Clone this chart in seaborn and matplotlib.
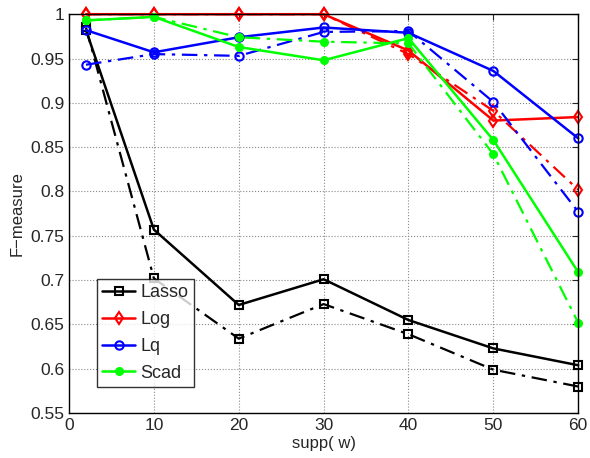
import pandas as pd
import seaborn as sns
import matplotlib
matplotlib.use("Agg")
import matplotlib.pyplot as plt
from matplotlib.ticker import FuncFormatter

# x positions (support size)
supp = [2, 10, 20, 30, 40, 50, 60]

# solid lines
lasso = [0.982, 0.757, 0.672, 0.701, 0.655, 0.623, 0.604]
log = [1.0, 1.0, 1.0, 1.0, 0.959, 0.880, 0.884]
lq = [0.982, 0.957, 0.974, 0.985, 0.979, 0.936, 0.860]
scad = [0.993, 0.997, 0.963, 0.948, 0.973, 0.858, 0.709]

# dash-dot lines
lasso_dd = [0.985, 0.702, 0.634, 0.673, 0.639, 0.599, 0.580]
log_dd = [1.0, 1.0, 1.0, 1.0, 0.955, 0.891, 0.802]
lq_dd = [0.943, 0.955, 0.953, 0.980, 0.981, 0.901, 0.777]
scad_dd = [0.993, 0.997, 0.974, 0.969, 0.967, 0.842, 0.652]

names = ["Lasso", "Log", "Lq", "Scad"]
colors = ["black", "red", "blue", "#00ff00"]
markers = ["s", "d", "o", "."]

sns.set_style("white")
plt.rcParams['font.family'] = ['Liberation Sans', 'DejaVu Sans']

fig, ax = plt.subplots(figsize=(5.9, 4.58), dpi=100)
fig.subplots_adjust(left=0.117, right=0.98, bottom=0.098, top=0.969)

solid = [lasso, log, lq, scad]
dashed = [lasso_dd, log_dd, lq_dd, scad_dd]

for name, c, m, ys, yd in zip(names, colors, markers, solid, dashed):
    face = c if m == "." else "none"
    ms = 10 if m == "." else 6
    sns.lineplot(x=supp, y=yd, ax=ax, color=c, marker=m, markersize=ms,
                 markerfacecolor=face, markeredgecolor=c, markeredgewidth=1.5,
                 linewidth=1.6, dashes=False, legend=False, clip_on=False)
    ax.lines[-1].set_dashes([7, 3, 1.5, 3])
    sns.lineplot(x=supp, y=ys, ax=ax, color=c, marker=m, markersize=ms,
                 markerfacecolor=face, markeredgecolor=c, markeredgewidth=1.5,
                 linewidth=1.8, label=name, clip_on=False)

ax.set_xlim(0, 60)
ax.set_ylim(0.55, 1.0)
ax.set_xticks(range(0, 61, 10))
ax.set_yticks([0.55, 0.6, 0.65, 0.7, 0.75, 0.8, 0.85, 0.9, 0.95, 1.0])
ax.yaxis.set_major_formatter(FuncFormatter(lambda v, p: "%g" % round(v, 2)))
ax.grid(True, linestyle=":", color="#888888", linewidth=0.8)
ax.tick_params(direction="in", labelsize=12.5, length=4, top=True, right=True)
for s in ax.spines.values():
    s.set_color("black")
    s.set_linewidth(1.0)

ax.set_xlabel("supp( w)", fontsize=12, labelpad=2)
ax.set_ylabel("F\u2212measure", fontsize=12)

leg = ax.legend(loc="lower left", bbox_to_anchor=(0.055, 0.065), fontsize=13,
                frameon=True, fancybox=False, borderpad=0.3, labelspacing=0.55,
                handlelength=1.8, handletextpad=0.3, borderaxespad=0)
leg.get_frame().set_edgecolor("black")
leg.get_frame().set_linewidth(1.0)

plt.savefig("out.png", dpi=100)
